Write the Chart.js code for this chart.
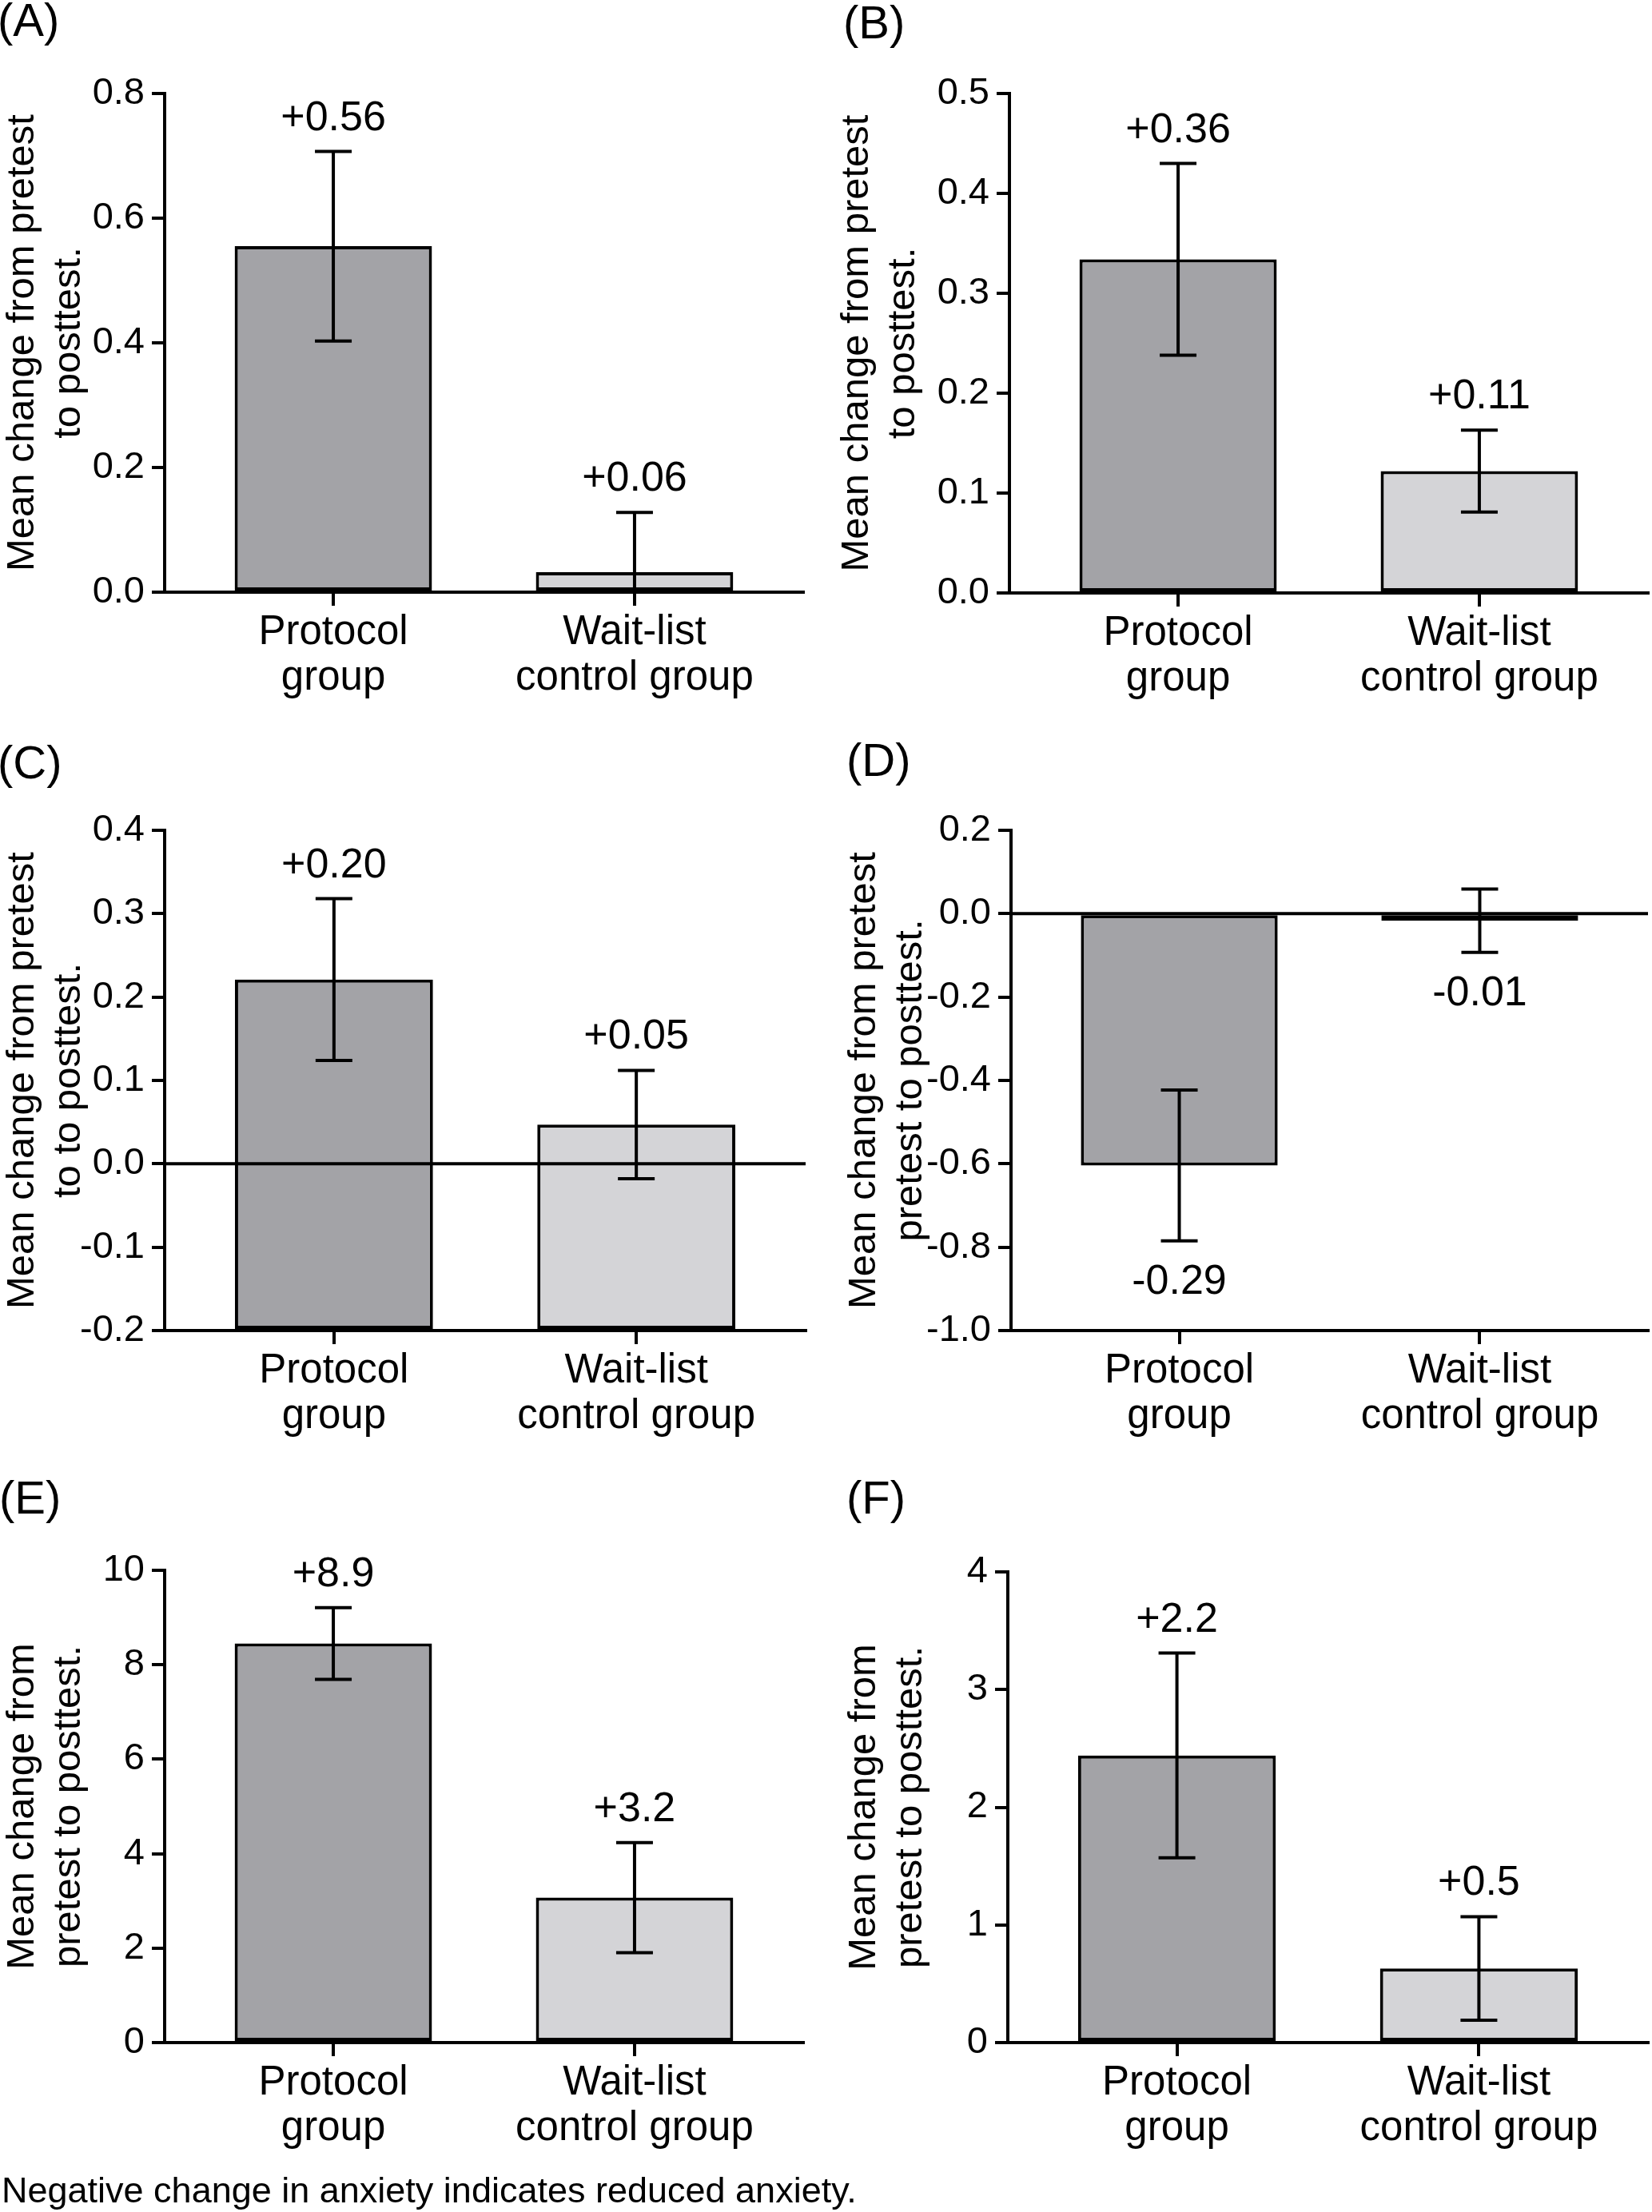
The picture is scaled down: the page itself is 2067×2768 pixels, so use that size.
<!DOCTYPE html>
<html>
<head>
<meta charset="utf-8">
<script src="https://cdn.jsdelivr.net/npm/chart.js@4.4.1/dist/chart.umd.min.js"></script>
<style>
    body { margin: 0; background: #fff; }
    #wrap { position: relative; width: 2067px; height: 2768px; font-family: "Liberation Sans", Arial, Helvetica, sans-serif; color: #000; }
    canvas { position: absolute; }
    .tag { position: absolute; font-size: 58px; line-height: 1; }
    .note { position: absolute; font-size: 45px; line-height: 1; white-space: nowrap; }
</style>
</head>
<body>
<div id="wrap">
    <div class="tag" style="left:-3px;top:-4px">(A)</div>
    <div class="tag" style="left:1055px;top:-1px">(B)</div>
    <div class="tag" style="left:-3px;top:925px">(C)</div>
    <div class="tag" style="left:1059px;top:922px">(D)</div>
    <div class="tag" style="left:-1px;top:1845px">(E)</div>
    <div class="tag" style="left:1059px;top:1845px">(F)</div>

    <canvas id="chartA"></canvas>
    <canvas id="chartB"></canvas>
    <canvas id="chartC"></canvas>
    <canvas id="chartD"></canvas>
    <canvas id="chartE"></canvas>
    <canvas id="chartF"></canvas>

    <div class="note" style="left:2px;top:2718px">Negative change in anxiety indicates reduced anxiety.</div>
</div>

<script>
// Groups on the x axis (one line per array entry)
const categories = [['Protocol', 'group'], ['Wait-list', 'control group']];
const barColors = ['#a3a3a7', '#d4d4d7'];

// Panel A
const meansA = [0.555, 0.032];
const errorsA = [0.152, 0.096];
const notesA = ['+0.56', '+0.06'];
const ticksA = [0, 0.2, 0.4, 0.6, 0.8];
const titleA = ['Mean change from pretest', 'to posttest.'];

// Panel B
const meansB = [0.334, 0.122];
const errorsB = [0.096, 0.041];
const notesB = ['+0.36', '+0.11'];
const ticksB = [0, 0.1, 0.2, 0.3, 0.4, 0.5];
const titleB = ['Mean change from pretest', 'to posttest.'];

// Panel C
const meansC = [0.221, 0.047];
const errorsC = [0.097, 0.065];
const notesC = ['+0.20', '+0.05'];
const ticksC = [-0.2, -0.1, 0, 0.1, 0.2, 0.3, 0.4];
const titleC = ['Mean change from pretest', 'to to posttest.'];

// Panel D
const meansD = [-0.604, -0.017];
const errorsD = [0.181, 0.076];
const notesD = ['-0.29', '-0.01'];
const ticksD = [-1.0, -0.8, -0.6, -0.4, -0.2, 0, 0.2];
const titleD = ['Mean change from pretest', 'pretest to posttest.'];

// Panel E
const meansE = [8.45, 3.07];
const errorsE = [0.76, 1.165];
const notesE = ['+8.9', '+3.2'];
const ticksE = [0, 2, 4, 6, 8, 10];
const titleE = ['Mean change from', 'pretest to posttest.'];

// Panel F
const meansF = [2.44, 0.63];
const errorsF = [0.87, 0.44];
const notesF = ['+2.2', '+0.5'];
const ticksF = [0, 1, 2, 3, 4];
const titleF = ['Mean change from', 'pretest to posttest.'];

// x range around the two group positions (1 and 2)
const X_MIN = 0.44;
const X_MAX = 2.56;
const FONT = '"Liberation Sans", Arial, Helvetica, sans-serif';
const LINE = 4;

Chart.defaults.font.family = FONT;
Chart.defaults.color = '#000';

// Error bars, zero line and value notes
const overlay = {
    id: 'overlay',
    afterDatasetsDraw(chart, args, opts) {
        const { ctx, chartArea, scales: { x, y } } = chart;
        ctx.save();
        ctx.strokeStyle = '#000';
        ctx.lineWidth = LINE;

        if (opts.zeroLine) {
            const y0 = y.getPixelForValue(0);
            ctx.beginPath();
            ctx.moveTo(chartArea.left, y0);
            ctx.lineTo(chartArea.right, y0);
            ctx.stroke();
        }

        ctx.save();
        ctx.beginPath();
        ctx.rect(chartArea.left, chartArea.top - 10, chartArea.right - chartArea.left, chartArea.bottom - chartArea.top + 10);
        ctx.clip();
        opts.means.forEach((m, i) => {
            const px = x.getPixelForValue(i + 1);
            const hi = y.getPixelForValue(m + opts.errors[i]);
            const lo = y.getPixelForValue(m - opts.errors[i]);
            ctx.beginPath();
            ctx.moveTo(px, hi);
            ctx.lineTo(px, lo);
            ctx.moveTo(px - 23, hi);
            ctx.lineTo(px + 23, hi);
            ctx.moveTo(px - 23, lo);
            ctx.lineTo(px + 23, lo);
            ctx.stroke();
        });
        ctx.restore();

        ctx.fillStyle = '#000';
        ctx.font = '52px ' + FONT;
        ctx.textAlign = 'center';
        ctx.textBaseline = 'alphabetic';
        opts.means.forEach((m, i) => {
            const px = x.getPixelForValue(i + 1);
            if (m >= 0) {
                ctx.fillText(opts.notes[i], px, y.getPixelForValue(m + opts.errors[i]) - 27);
            } else {
                ctx.fillText(opts.notes[i], px, y.getPixelForValue(m - opts.errors[i]) + 66);
            }
        });
        ctx.restore();
    }
};
Chart.register(overlay);

function makeChart(id, d, box) {
    const canvas = document.getElementById(id);
    canvas.width = box.w;
    canvas.height = box.h;
    canvas.style.left = box.left + 'px';
    canvas.style.top = box.top + 'px';

    const dataset = {
        data: d.means.map((v, i) => ({ x: i + 1, y: v })),
        backgroundColor: barColors,
        borderColor: '#000',
        borderWidth: LINE,
        borderSkipped: false,
        categoryPercentage: 1,
        barPercentage: 0.655
    };
    if (d.base !== undefined) dataset.base = d.base;

    return new Chart(canvas, {
        type: 'bar',
        data: { datasets: [dataset] },
        options: {
            responsive: false,
            animation: false,
            devicePixelRatio: 1,
            layout: {
                padding: { top: box.areaTop - box.top, right: box.left + box.w - box.areaRight, bottom: 0, left: 0 }
            },
            plugins: {
                legend: { display: false },
                tooltip: { enabled: false },
                overlay: { means: d.means, errors: d.errors, notes: d.notes, zeroLine: d.zeroLine }
            },
            scales: {
                x: {
                    type: 'linear',
                    min: X_MIN,
                    max: X_MAX,
                    offset: false,
                    afterBuildTicks: s => { s.ticks = categories.map((c, i) => ({ value: i + 1 })); },
                    afterFit: s => { s.height = box.top + box.h - box.areaBottom; },
                    ticks: {
                        color: '#000',
                        font: { size: 51, lineHeight: 1.12 },
                        padding: 5,
                        maxRotation: 0,
                        autoSkip: false,
                        callback: v => categories[Math.round(v) - 1] || ''
                    },
                    grid: { offset: false, drawOnChartArea: false, drawTicks: true, tickLength: 17, color: '#000', lineWidth: LINE },
                    border: { display: true, color: '#000', width: LINE }
                },
                y: {
                    type: 'linear',
                    min: d.ticks[0],
                    max: d.ticks[d.ticks.length - 1],
                    afterBuildTicks: s => { s.ticks = d.ticks.map(v => ({ value: v })); },
                    afterFit: s => { s.width = box.areaLeft - box.left; },
                    ticks: {
                        color: '#000',
                        font: { size: 47 },
                        padding: 9,
                        callback: v => Number(v).toFixed(d.decimals)
                    },
                    grid: { drawOnChartArea: false, drawTicks: true, tickLength: 16, color: '#000', lineWidth: LINE },
                    border: { display: true, color: '#000', width: LINE },
                    title: {
                        display: true,
                        text: d.title,
                        color: '#000',
                        font: { size: 49, lineHeight: 1.18 },
                        padding: { top: box.titlePad, bottom: 0 }
                    }
                }
            }
        }
    });
}

makeChart('chartA',
    { means: meansA, errors: errorsA, notes: notesA, ticks: ticksA, title: titleA, decimals: 1 },
    { left: 0, top: 0, w: 1033, h: 900, areaLeft: 206, areaTop: 117, areaRight: 1005, areaBottom: 741, titlePad: 0 });
makeChart('chartB',
    { means: meansB, errors: errorsB, notes: notesB, ticks: ticksB, title: titleB, decimals: 1 },
    { left: 1033, top: 0, w: 1034, h: 900, areaLeft: 1263, areaTop: 117, areaRight: 2062, areaBottom: 742, titlePad: 11 });
makeChart('chartC',
    { means: meansC, errors: errorsC, notes: notesC, ticks: ticksC, title: titleC, decimals: 1, base: ticksC[0], zeroLine: true },
    { left: 0, top: 900, w: 1033, h: 950, areaLeft: 206, areaTop: 1039, areaRight: 1008, areaBottom: 1665, titlePad: 0 });
makeChart('chartD',
    { means: meansD, errors: errorsD, notes: notesD, ticks: ticksD, title: titleD, decimals: 1, zeroLine: true },
    { left: 1033, top: 900, w: 1034, h: 950, areaLeft: 1265, areaTop: 1039, areaRight: 2062, areaBottom: 1665, titlePad: 20 });
makeChart('chartE',
    { means: meansE, errors: errorsE, notes: notesE, ticks: ticksE, title: titleE, decimals: 0 },
    { left: 0, top: 1800, w: 1033, h: 968, areaLeft: 206, areaTop: 1965, areaRight: 1005, areaBottom: 2556, titlePad: 0 });
makeChart('chartF',
    { means: meansF, errors: errorsF, notes: notesF, ticks: ticksF, title: titleF, decimals: 0 },
    { left: 1033, top: 1800, w: 1034, h: 968, areaLeft: 1261, areaTop: 1967, areaRight: 2062, areaBottom: 2556, titlePad: 20 });
</script>
</body>
</html>
